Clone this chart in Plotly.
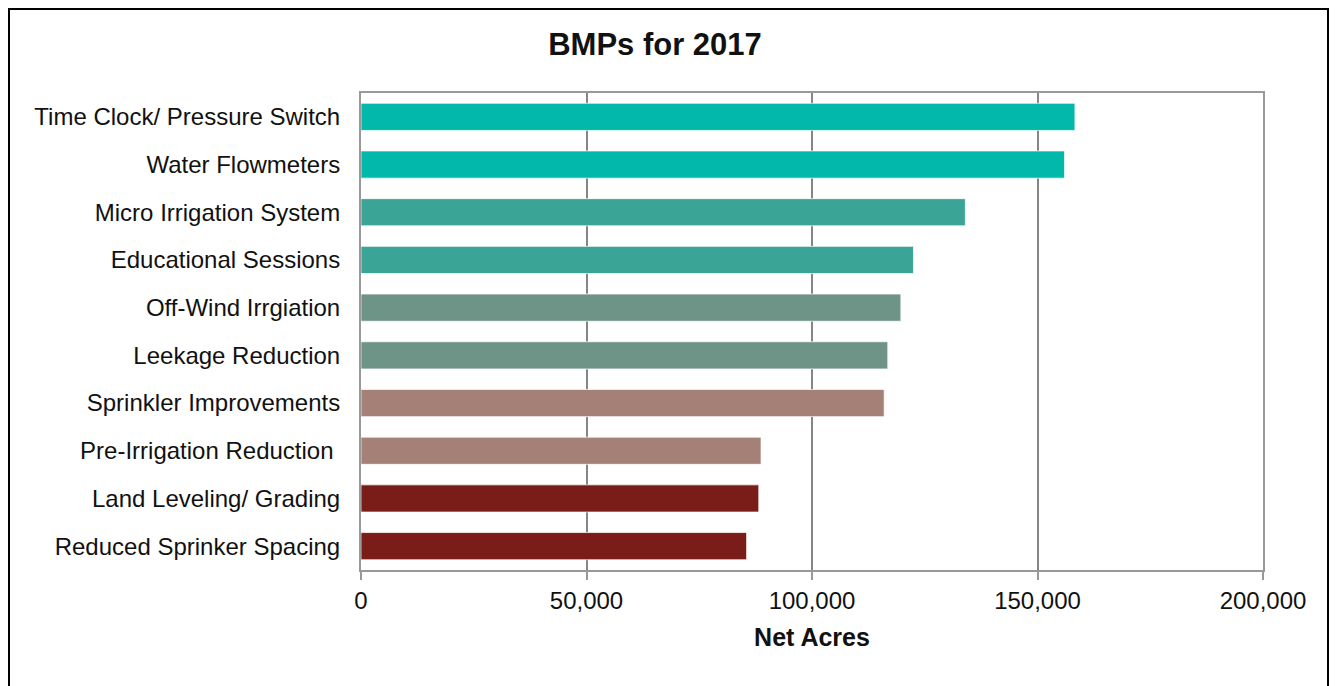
import plotly.graph_objects as go

categories = ["Time Clock/ Pressure Switch", "Water Flowmeters", "Micro Irrigation System",
              "Educational Sessions", "Off-Wind Irrgiation", "Leekage Reduction",
              "Sprinkler Improvements", "Pre-Irrigation Reduction ", "Land Leveling/ Grading",
              "Reduced Sprinker Spacing"]
net_acres = [158300, 156000, 134000, 122500, 119700, 116800, 116000, 88700, 88200, 85500]
bar_colors = ["#02B8AA", "#02B8AA", "#3AA597", "#3AA597", "#6E9487", "#6E9487",
              "#A58076", "#A58076", "#7A1C18", "#7A1C18"]
x_ticks = [0, 50000, 100000, 150000, 200000]
x_ticklabels = ["0", "50,000", "100,000", "150,000", "200,000"]

# page has an 8px body margin; figure coordinates = page coordinates - 8
OFF = 8
W, H = 1337 - OFF, 686 - OFF
L = 361 - OFF
T = 93 - OFF
R = W - (1263 - OFF)
B = H - (570 - OFF)
pw, ph = W - L - R, H - T - B

def px_to_paper_x(px):
    return (px - OFF - L) / pw

def px_to_paper_y(py):
    return (H - B - (py - OFF)) / ph

fig = go.Figure(go.Bar(
    y=categories, x=net_acres, orientation="h",
    marker=dict(color=bar_colors, line=dict(color="rgba(255,255,255,0.7)", width=1)),
))

fig.update_layout(
    width=W, height=H,
    margin=dict(l=L, r=R, t=T, b=B),
    paper_bgcolor="white", plot_bgcolor="white",
    bargap=0.43,
    showlegend=False,
    font=dict(family="Liberation Sans, Arial, sans-serif", size=24, color="#111111"),
    title=dict(text="<b>BMPs for 2017</b>", x=(655 - OFF) / W, xanchor="center",
               y=1 - (44.5 - OFF) / H, yanchor="middle",
               font=dict(size=31, color="#111")),
    xaxis=dict(range=[0, 200000], tickvals=x_ticks, ticktext=x_ticklabels,
               showgrid=True, gridcolor="#858585", gridwidth=2,
               showline=True, linecolor="#999999", linewidth=2, mirror=True,
               ticks="outside", ticklen=8, tickcolor="#999999", tickwidth=2,
               zeroline=False,
               title=dict(text="<b>Net Acres</b>", font=dict(size=25, color="#111"), standoff=16),
               tickfont=dict(size=24, color="#111111")),
    yaxis=dict(autorange="reversed", showgrid=False,
               showline=True, linecolor="#999999", linewidth=2, mirror=True,
               ticks="", ticklabelstandoff=14,
               tickfont=dict(size=24, color="#111111")),
    shapes=[dict(type="rect", xref="paper", yref="paper",
                 x0=px_to_paper_x(9), x1=px_to_paper_x(1328),
                 y0=px_to_paper_y(740), y1=px_to_paper_y(9),
                 line=dict(color="black", width=2), fillcolor="rgba(0,0,0,0)",
                 layer="above")],
)

fig.write_html("out.html")
